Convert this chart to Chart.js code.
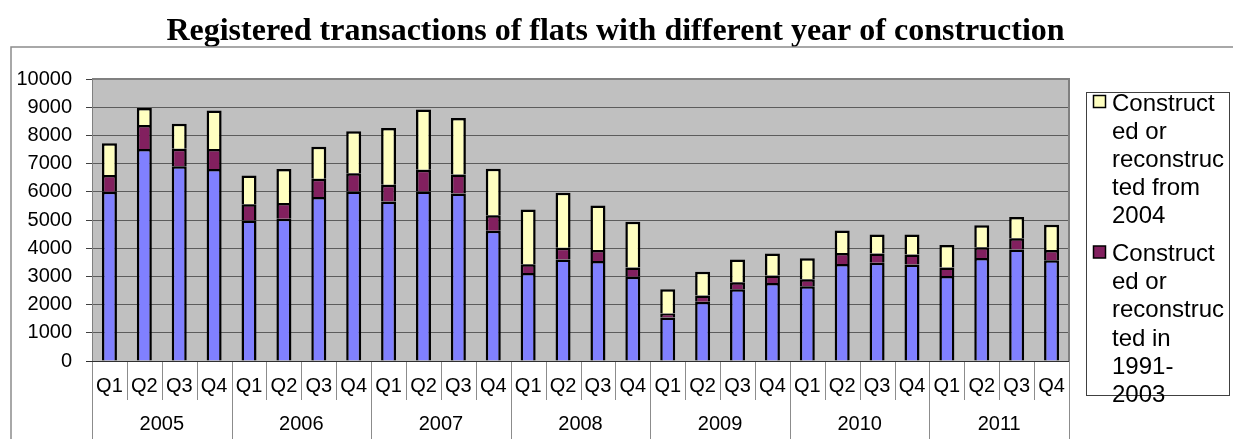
<!DOCTYPE html>
<html>
<head>
<meta charset="utf-8">
<script src="https://cdn.jsdelivr.net/npm/chart.js@4"></script>
<style>
  html, body { margin: 0; padding: 0; background: #fff; }
  canvas { display: block; }
</style>
</head>
<body>
<canvas id="myChart" width="1233" height="439"></canvas>
<script>
const years = ['2005', '2006', '2007', '2008', '2009', '2010', '2011'];
const quarters = ['Q1', 'Q2', 'Q3', 'Q4'];

// bottom segment (blue)
const before1991 = [6000, 7520, 6910, 6810, 4980, 5040, 5820, 6010,
    5660, 6010, 5940, 4620, 3120, 3600, 3550, 2990,
    1540, 2100, 2540, 2770, 2650, 3440, 3480, 3420,
    3010, 3650, 3950, 3570];
// middle segment (purple)
const from1991to2003 = [600, 850, 615, 710, 580, 560, 640, 650,
    590, 770, 675, 545, 310, 415, 390, 330,
    140, 225, 250, 260, 250, 390, 330, 355,
    310, 380, 400, 365];
// top segment (light yellow)
const from2004 = [1125, 600, 885, 1360, 1020, 1205, 1135, 1490,
    2010, 2140, 2000, 1655, 1940, 1950, 1575, 1620,
    865, 840, 805, 780, 745, 795, 675, 710,
    795, 780, 755, 900];

const seriesNames = [
    'Constructed before 1991',
    'Constructed or reconstructed in 1991-2003',
    'Constructed or reconstructed from 2004'
];
const seriesColors = ['#8080ff', '#82205f', '#ffffc0'];
const chartTitle = 'Registered transactions of flats with different year of construction';

const labels = years.flatMap(y => quarters.map(q => y + ' ' + q));

const sansFont = "'Liberation Sans', Arial, sans-serif";
const serifFont = "'Liberation Serif', 'Times New Roman', serif";

// wrap like Excel does: break at spaces / hyphens, split long words by characters
function wrapText(ctx, text, maxWidth) {
    const tokens = text.match(/[^ \-]+-?\s*|\s+/g) || [];
    const lines = [];
    let line = '';
    for (let tok of tokens) {
        if (ctx.measureText((line + tok).trimEnd()).width <= maxWidth) {
            line += tok;
            continue;
        }
        if (line) { lines.push(line.trimEnd()); line = ''; }
        while (ctx.measureText(tok.trimEnd()).width > maxWidth) {
            let n = 1;
            while (ctx.measureText(tok.slice(0, n + 1)).width <= maxWidth) n++;
            lines.push(tok.slice(0, n));
            tok = tok.slice(n);
        }
        line = tok;
    }
    if (line.trim()) lines.push(line.trimEnd());
    return lines;
}

const excelLook = {
    id: 'excelLook',
    beforeDraw(chart) {
        const c = chart.ctx, a = chart.chartArea;
        c.save();
        c.fillStyle = '#fff';
        c.fillRect(0, 0, chart.width, chart.height);
        // title
        c.fillStyle = '#000';
        c.font = 'bold 32px ' + serifFont;
        c.textAlign = 'center';
        c.textBaseline = 'alphabetic';
        c.fillText(chartTitle, chart.width / 2 - 1, 40);
        // outer chart frame
        c.strokeStyle = '#8c8c8c';
        c.lineWidth = 1.5;
        c.beginPath();
        c.moveTo(11, chart.height + 2);
        c.lineTo(11, 47);
        c.lineTo(chart.width + 2, 47);
        c.stroke();
        // plot area background
        c.fillStyle = '#c0c0c0';
        c.fillRect(a.left, a.top, a.right - a.left, a.bottom - a.top);
        c.restore();
    },
    beforeDatasetsDraw(chart) {
        const c = chart.ctx, a = chart.chartArea;
        c.save();
        c.strokeStyle = '#808080';
        c.lineWidth = 2;
        c.beginPath();
        c.moveTo(a.left, a.top);
        c.lineTo(a.right, a.top);
        c.lineTo(a.right, a.bottom);
        c.stroke();
        c.restore();
    },
    afterDraw(chart) {
        const c = chart.ctx, a = chart.chartArea, x = chart.scales.x;
        const step = x.getPixelForValue(1) - x.getPixelForValue(0);
        c.save();
        // two-level category axis
        c.strokeStyle = '#8c8c8c';
        c.lineWidth = 1;
        for (let i = 0; i <= labels.length; i++) {
            const px = Math.round(x.getPixelForValue(0) - step / 2 + i * step) + 0.5;
            c.beginPath();
            c.moveTo(px, a.bottom);
            c.lineTo(px, i % quarters.length === 0 ? chart.height : a.bottom + 39);
            c.stroke();
        }
        c.strokeStyle = '#303030';
        c.beginPath();
        c.moveTo(a.left - 6, a.bottom + 0.5);
        c.lineTo(a.right, a.bottom + 0.5);
        c.stroke();
        c.fillStyle = '#000';
        c.font = '20px ' + sansFont;
        c.textAlign = 'center';
        c.textBaseline = 'middle';
        labels.forEach((lab, i) => {
            c.fillText(quarters[i % quarters.length], x.getPixelForValue(i), a.bottom + 25);
        });
        years.forEach((yr, j) => {
            const mid = (x.getPixelForValue(j * 4) + x.getPixelForValue(j * 4 + 3)) / 2;
            c.fillText(yr, mid, a.bottom + 63);
        });

        // legend (Excel lists stacked series top-down, box clips the last one)
        const box = { left: a.left + 994.5, top: a.top + 13.5, right: chart.width - 3.5, bottom: a.bottom + 34.5 };
        c.strokeStyle = '#404040';
        c.lineWidth = 1;
        c.strokeRect(box.left, box.top, box.right - box.left, box.bottom - box.top);
        c.font = '24px ' + sansFont;
        c.textAlign = 'left';
        c.textBaseline = 'alphabetic';
        const lineH = 28.2;
        let base = box.top + 18;
        for (let k = chart.data.datasets.length - 1; k >= 0; k--) {
            if (base - 16 > box.bottom) break;
            const ds = chart.data.datasets[k];
            c.fillStyle = ds.backgroundColor;
            c.fillRect(box.left + 7, base - 15, 12, 12);
            c.strokeStyle = '#000';
            c.lineWidth = 1.5;
            c.strokeRect(box.left + 7, base - 15, 12, 12);
            c.fillStyle = '#000';
            const lines = wrapText(c, ds.label, 113.5);
            lines.forEach((ln, li) => c.fillText(ln, box.left + 25.5, base + li * lineH));
            base += lines.length * lineH + 9.5;
        }
        c.restore();
    }
};

const ctx = document.getElementById('myChart');
const data = {
    labels: labels,
    datasets: [before1991, from1991to2003, from2004].map((vals, k) => ({
        label: seriesNames[k],
        data: vals,
        backgroundColor: seriesColors[k],
        borderColor: '#000',
        borderWidth: 2.5,
        barPercentage: 0.43,
        categoryPercentage: 1.0
    }))
};

const config = {
    type: 'bar',
    data: data,
    options: {
        responsive: false,
        animation: false,
        layout: {
            padding: { left: 11, top: 79, right: 164, bottom: 78 }
        },
        plugins: {
            legend: { display: false },
            tooltip: { enabled: false },
            title: { display: false }
        },
        scales: {
            x: {
                stacked: true,
                display: false
            },
            y: {
                stacked: true,
                min: 0,
                max: 10000,
                afterFit(scale) { scale.width = 81; },
                ticks: {
                    stepSize: 1000,
                    color: '#000',
                    padding: 14,
                    font: { family: sansFont, size: 20 },
                    callback: v => String(v)
                },
                grid: {
                    color: '#5c5c5c',
                    lineWidth: 1,
                    tickLength: 6,
                    tickColor: '#404040'
                },
                border: { color: '#808080', width: 1 }
            }
        }
    },
    plugins: [excelLook]
};

chart = new Chart(ctx, config);
</script>
</body>
</html>
